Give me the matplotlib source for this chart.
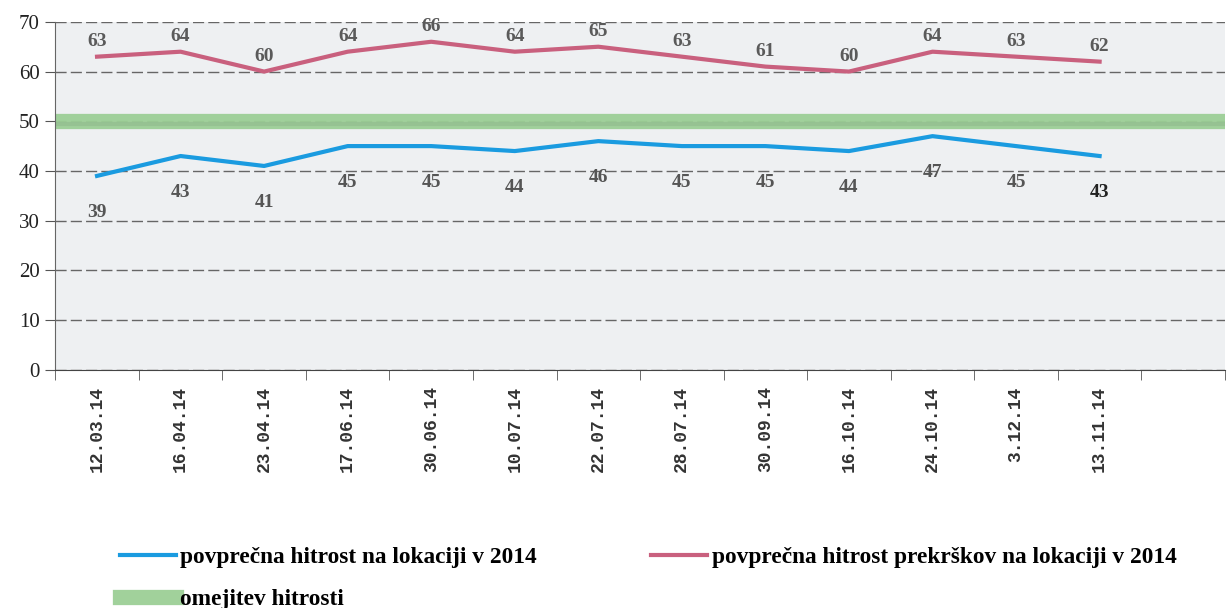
import numpy as np
import matplotlib.pyplot as plt

# Data
dates = ['12.03.14', '16.04.14', '23.04.14', '17.06.14', '30.06.14', '10.07.14',
         '22.07.14', '28.07.14', '30.09.14', '16.10.14', '24.10.14', '3.12.14', '13.11.14']
avg_speed = [39, 43, 41, 45, 45, 44, 46, 45, 45, 44, 47, 45, 43]
avg_violation_speed = [63, 64, 60, 64, 66, 64, 65, 63, 61, 60, 64, 63, 62]
speed_limit = 50
n_slots = 14  # chart has one empty category slot at the end

fig = plt.figure(figsize=(12.28, 6.08), dpi=100)
ax = fig.add_axes([0.045, 0.392, 0.9525, 0.572])
ax.set_facecolor('#eef0f2')

x = np.arange(len(dates))

# speed limit band
ax.axhline(speed_limit, color='#9ccf96', linewidth=11, alpha=0.95, zorder=2,
           label='omejitev hitrosti')
ax.axhline(speed_limit - 0.6, color='#7a9a7a', linewidth=3, alpha=0.25, zorder=2)
ax.plot(x, avg_speed, color='#1a9be0', linewidth=3, zorder=3,
        label='povprečna hitrost na lokaciji v 2014')
ax.plot(x, avg_violation_speed, color='#c9607e', linewidth=3, zorder=3,
        label='povprečna hitrost prekrškov na lokaciji v 2014')

# value labels
for xi, v in zip(x, avg_violation_speed):
    ax.annotate(str(v), (xi, v), xytext=(0, 11), textcoords='offset points',
                ha='center', va='center', fontsize=14, family='Liberation Serif',
                color='#5a5a5a', fontweight='bold')
for i, (xi, v) in enumerate(zip(x, avg_speed)):
    last = i == len(avg_speed) - 1
    ax.annotate(str(v), (xi, v), xytext=(0, -26), textcoords='offset points',
                ha='center', va='center', fontsize=14, family='Liberation Serif',
                color='#222222' if last else '#555555', fontweight='bold')

ax.set_xlim(-0.5, n_slots - 0.5)
ax.set_ylim(0, 70)
yt = np.arange(0, 71, 10)
ax.set_yticks(yt)
ax.set_yticklabels([str(v) for v in yt], family='Liberation Serif', fontsize=15,
                   color='#222222')
ax.set_xticks(x)
ax.set_xticklabels(dates, rotation=90, family='Liberation Mono', fontsize=13,
                   fontweight='bold', color='#333333')
ax.set_xticks(np.arange(n_slots + 1) - 0.5, minor=True)
ax.tick_params(axis='x', which='major', length=0, pad=12)
ax.tick_params(axis='x', which='minor', length=7, color='#555555', direction='out')
ax.tick_params(axis='y', length=7, color='#555555', pad=4)

ax.grid(axis='y', linestyle=(0, (8, 3)), color='#666666', linewidth=1)
ax.set_axisbelow(True)
for s in ['top', 'right']:
    ax.spines[s].set_visible(False)
ax.spines['left'].set_color('#666666')
ax.spines['bottom'].set_color('#444444')

handles, labels = ax.get_legend_handles_labels()
order = [1, 0, 2]
fig.legend([handles[i] for i in order], [labels[i] for i in order],
           loc='upper left', bbox_to_anchor=(0.088, 0.12), ncol=2, frameon=False,
           borderpad=0, handlelength=2.4, handletextpad=0.2, columnspacing=4.9,
           labelspacing=0.9, prop={'family': 'Liberation Serif', 'weight': 'bold', 'size': 16.8})

fig.savefig('out.png', dpi=100)
